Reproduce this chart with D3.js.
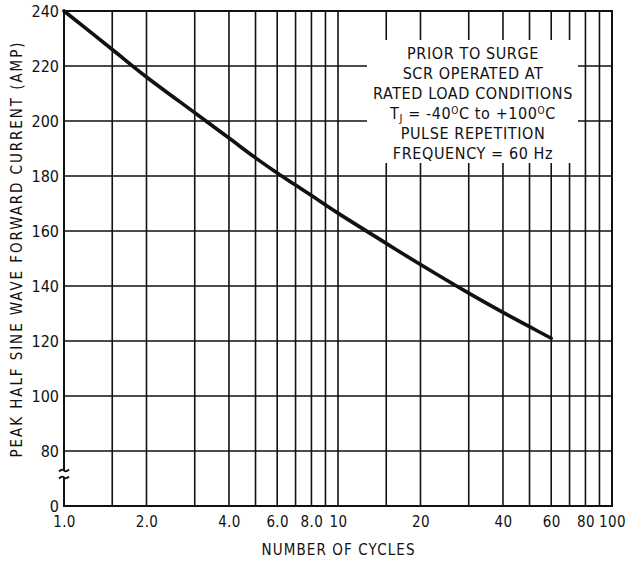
<!DOCTYPE html>
<html>
<head>
<meta charset="utf-8">
<script src="https://cdn.jsdelivr.net/npm/d3@7"></script>
<style>
  html, body { margin: 0; padding: 0; background: #fff; }
  svg { display: block; }
  text { font-family: "Liberation Sans Narrow", "DejaVu Sans Condensed", "Arial Narrow", sans-serif; fill: #111; }
</style>
</head>
<body>
<svg id="chart" width="628" height="565"></svg>
<script>
// ---- data ----
const cycles  = [1, 1.5, 2, 3, 4, 5, 6, 7, 8, 10, 15, 20, 30, 40, 50, 60];
const current = [240, 226, 216, 203, 193.8, 186.6, 181.1, 176.7, 172.9, 166.5, 155.5, 147.8, 137.4, 130.4, 125.2, 121];

const xGridValues = [1, 1.5, 2, 3, 4, 5, 6, 7, 8, 9, 10, 15, 20, 30, 40, 50, 60, 70, 80, 90, 100];
const xTickValues = [1, 2, 4, 6, 8, 10, 20, 40, 60, 80, 100];
const xTickLabels = ["1.0", "2.0", "4.0", "6.0", "8.0", "10", "20", "40", "60", "80", "100"];
// the lowest band is an axis break: the value 60 on the scale is labelled "0"
const yTickValues = [60, 80, 100, 120, 140, 160, 180, 200, 220, 240];
const yTickLabels = ["0", "80", "100", "120", "140", "160", "180", "200", "220", "240"];

const noteLines = ["PRIOR TO SURGE", "SCR OPERATED AT", "RATED LOAD CONDITIONS", null, "PULSE REPETITION", "FREQUENCY = 60 Hz"];

const xTitle = "NUMBER OF CYCLES";
const yTitle = "PEAK HALF SINE WAVE FORWARD CURRENT (AMP)";

// ---- layout ----
const svg = d3.select("#chart");
const pLeft = 64, pRight = 612, pTop = 11, pBottom = 506;

const x = d3.scaleLog().domain([1, 100]).range([pLeft, pRight]);
const y = d3.scaleLinear().domain([60, 240]).range([pBottom, pTop]);

const ink = "#111";
const fontStack = '"Liberation Sans Narrow", "DejaVu Sans Condensed", sans-serif';

// vertical grid lines
svg.append("g").selectAll("line").data(xGridValues).join("line")
  .attr("x1", d => x(d)).attr("x2", d => x(d))
  .attr("y1", pTop).attr("y2", pBottom)
  .attr("stroke", ink).attr("stroke-width", 1.6);

// horizontal grid lines
svg.append("g").selectAll("line").data(yTickValues).join("line")
  .attr("x1", pLeft).attr("x2", pRight)
  .attr("y1", d => y(d)).attr("y2", d => y(d))
  .attr("stroke", ink).attr("stroke-width", 1.6);

// frame
svg.append("rect")
  .attr("x", pLeft).attr("y", pTop).attr("width", pRight - pLeft).attr("height", pBottom - pTop)
  .attr("fill", "none").attr("stroke", ink).attr("stroke-width", 2);

// axes (labels only, via d3 axes)
const xAxis = d3.axisBottom(x).tickValues(xTickValues)
  .tickFormat((d, i) => xTickLabels[i]).tickSize(0).tickPadding(10);
const gx = svg.append("g").attr("transform", `translate(0,${pBottom})`).call(xAxis);
gx.select(".domain").remove();
gx.selectAll("text").attr("font-size", 15).attr("fill", ink).style("font-family", fontStack)
  .attr("letter-spacing", 0.4);

const yAxis = d3.axisLeft(y).tickValues(yTickValues)
  .tickFormat((d, i) => yTickLabels[i]).tickSize(0).tickPadding(5);
const gy = svg.append("g").attr("transform", `translate(${pLeft},0)`).call(yAxis);
gy.select(".domain").remove();
gy.selectAll("text").attr("font-size", 16).attr("fill", ink).style("font-family", fontStack);

// axis break mark between 0 and 80
const yb = y(70) - 4;
svg.append("rect").attr("x", pLeft - 3).attr("y", yb - 4).attr("width", 6).attr("height", 7).attr("fill", "#fff");
[yb - 4, yb + 3].forEach(yy => {
  svg.append("path")
    .attr("d", `M${pLeft - 5},${yy + 1} Q${pLeft - 2},${yy - 2} ${pLeft},${yy} T${pLeft + 5},${yy - 1}`)
    .attr("fill", "none").attr("stroke", ink).attr("stroke-width", 1.8);
});

// curve
svg.append("path")
  .datum(cycles.map((c, i) => [c, current[i]]))
  .attr("d", d3.line().x(d => x(d[0])).y(d => y(d[1])).curve(d3.curveCatmullRom))
  .attr("fill", "none").attr("stroke", ink).attr("stroke-width", 3.6)
  .attr("stroke-linecap", "round");

// note box
svg.append("rect").attr("x", 367).attr("y", 40).attr("width", 211).attr("height", 123).attr("fill", "#fff");
const note = svg.append("g").attr("font-size", 16).attr("text-anchor", "middle").attr("letter-spacing", 0.6);
noteLines.forEach((t, i) => {
  const tx = note.append("text").attr("x", 473).attr("y", 59 + i * 20);
  if (t !== null) { tx.text(t); return; }
  tx.append("tspan").text("T");
  tx.append("tspan").attr("font-size", 11).attr("dy", 3).text("J");
  tx.append("tspan").attr("dy", -3).text(" = -40");
  tx.append("tspan").attr("font-size", 10).attr("dy", -5).text("O");
  tx.append("tspan").attr("dy", 5).text("C to +100");
  tx.append("tspan").attr("font-size", 10).attr("dy", -5).text("O");
  tx.append("tspan").attr("dy", 5).text("C");
});

// titles
svg.append("text").attr("x", 338).attr("y", 555).attr("text-anchor", "middle")
  .attr("font-size", 15).attr("textLength", 153).attr("lengthAdjust", "spacing").text(xTitle);
svg.append("text").attr("transform", "translate(22,250) rotate(-90)")
  .attr("text-anchor", "middle").attr("font-size", 15)
  .attr("textLength", 415).attr("lengthAdjust", "spacing").text(yTitle);
</script>
</body>
</html>
